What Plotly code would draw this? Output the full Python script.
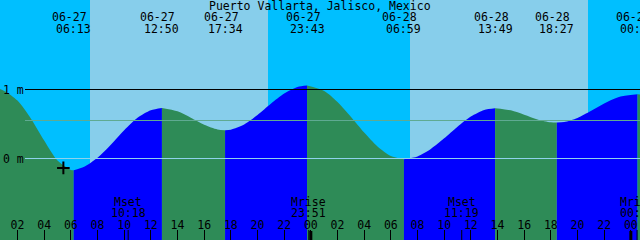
import plotly.graph_objects as go

# ---------------- data (hours since 06-27 00:00, levels in metres) ----------------
title = "Puerto Vallarta, Jalisco, Mexico"

tide_hours = [0, 1, 2, 3, 4, 5, 6, 6.217, 7, 8, 9, 10, 11, 12, 12.833,
              14, 15, 16, 17, 17.567, 18, 19, 20, 21, 22, 23, 23.717,
              25, 26, 27, 28, 29, 30, 30.983, 32, 33, 34, 35, 36, 37, 37.817,
              39, 40, 41, 42, 42.45, 43, 44, 45, 46, 47, 48.5, 49]
tide_levels = [1.06, 0.98, 0.84, 0.58, 0.26, -0.03, -0.165, -0.17, -0.12, 0.01, 0.20, 0.41, 0.59, 0.70, 0.733,
               0.684, 0.591, 0.489, 0.421, 0.41, 0.418, 0.493, 0.630, 0.793, 0.941, 1.036, 1.058,
               0.978, 0.818, 0.605, 0.376, 0.175, 0.037, -0.01, 0.030, 0.138, 0.292, 0.461, 0.608, 0.704, 0.73,
               0.698, 0.634, 0.567, 0.525, 0.52, 0.529, 0.588, 0.687, 0.796, 0.885, 0.93, 0.925]

ext_hours = [6.217, 12.833, 17.567, 23.717, 30.983, 37.817, 42.45, 48.5]
ext_dates = ["06-27", "06-27", "06-27", "06-27", "06-28", "06-28", "06-28", "06-29"]
ext_times = ["06:13", "12:50", "17:34", "23:43", "06:59", "13:49", "18:27", "00:30"]

sunrise_hours = [7.4375, 31.4375]
sunset_hours = [20.7875, 44.7875]

moon_hours = [10.30, 23.85, 35.317, 48.47]
moon_events = ["Mset", "Mrise", "Mset", "Mrise"]
moon_times = ["10:18", "23:51", "11:19", "00:28"]

hour_ticks = list(range(2, 49, 2))
hour_labels = ["02", "04", "06", "08", "10", "12", "14", "16", "18", "20", "22", "00",
               "02", "04", "06", "08", "10", "12", "14", "16", "18", "20", "22", "00"]
midnight_hours = [24, 48]

level_lines = [1.0, 0.5507, 0.0]
level_line_colors = ["#000000", "#5FAA92", "#8FD2EC"]
level_labels = ["1 m", "0 m"]
level_label_values = [1.0, 0.0]

now_hour = [5.44]
now_level = [-0.136]

# ---------------- styling ----------------
NIGHT = "#00BFFF"
DAY = "#87CEEB"
FLOOD = "#0000FF"
EBB = "#2E8B57"
FONT = dict(family="DejaVu Sans Mono", size=11.5, color="black")
X_RANGE = [0.6875, 48.6875]
Y_RANGE = [-1.1812, 2.2971]
BASE = -1.5

fig = go.Figure()

# water fill, coloured by rising / falling between extremes
bounds = [tide_hours[0]] + ext_hours + [tide_hours[-1]]
for a, b in zip(bounds[:-1], bounds[1:]):
    idx = [i for i, h in enumerate(tide_hours) if a - 1e-9 <= h <= b + 1e-9]
    if len(idx) < 2:
        continue
    xs = [tide_hours[i] for i in idx]
    ys = [tide_levels[i] for i in idx]
    color = FLOOD if ys[-1] > ys[0] else EBB
    fig.add_trace(go.Scatter(x=xs, y=[BASE] * len(xs), mode="lines",
                             line=dict(width=0), hoverinfo="skip", showlegend=False))
    fig.add_trace(go.Scatter(x=xs, y=ys, mode="lines",
                             line=dict(width=0, shape="spline", smoothing=0.8, color=color),
                             fill="tonexty", fillcolor=color,
                             hoverinfo="skip", showlegend=False))

# "now" marker
fig.add_trace(go.Scatter(x=now_hour, y=now_level, mode="markers",
                         marker=dict(symbol="cross-thin", size=9,
                                     line=dict(width=2, color="black")),
                         hoverinfo="skip", showlegend=False))

shapes = []
# daylight bands
for sr, ss in zip(sunrise_hours, sunset_hours):
    shapes.append(dict(type="rect", xref="x", yref="paper", x0=sr, x1=ss, y0=0, y1=1,
                       fillcolor=DAY, line=dict(width=0), layer="below"))
# level lines
for lv, col in zip(level_lines, level_line_colors):
    shapes.append(dict(type="line", xref="paper", yref="y", x0=25 / 640, x1=1, y0=lv, y1=lv,
                       line=dict(color=col, width=1), layer="above"))
# midnight (thick) ticks
for mh in midnight_hours:
    shapes.append(dict(type="line", xref="x", yref="paper", x0=mh, x1=mh, y0=0, y1=9 / 240,
                       line=dict(color="black", width=3), layer="above"))
# moon event ticks
for mh in moon_hours:
    shapes.append(dict(type="line", xref="x", yref="paper", x0=mh, x1=mh, y0=0, y1=10 / 240,
                       line=dict(color="black", width=1), layer="above"))

ann = []
ann.append(dict(text=title, xref="paper", yref="paper", x=0.5, y=1 - 6 / 240,
                xanchor="center", yanchor="middle", showarrow=False, font=FONT))
for h, d, t in zip(ext_hours, ext_dates, ext_times):
    ann.append(dict(text=d, xref="x", yref="paper", x=h, xshift=-4, y=1 - 17.5 / 240,
                    xanchor="center", yanchor="middle", showarrow=False, font=FONT))
    ann.append(dict(text=t, xref="x", yref="paper", x=h, y=1 - 29 / 240,
                    xanchor="center", yanchor="middle", showarrow=False, font=FONT))
for h, e, t in zip(moon_hours, moon_events, moon_times):
    ann.append(dict(text=e, xref="x", yref="paper", x=h, y=1 - 201.5 / 240,
                    xanchor="center", yanchor="middle", showarrow=False, font=FONT))
    ann.append(dict(text=t, xref="x", yref="paper", x=h, y=1 - 213 / 240,
                    xanchor="center", yanchor="middle", showarrow=False, font=FONT))
for lab, lv in zip(level_labels, level_label_values):
    ann.append(dict(text=lab, xref="paper", yref="y", x=1 / 640, y=lv,
                    xanchor="left", yanchor="middle", showarrow=False, font=FONT))

fig.update_layout(
    width=640, height=240,
    margin=dict(l=0, r=0, t=0, b=0, pad=0),
    paper_bgcolor=NIGHT, plot_bgcolor=NIGHT,
    shapes=shapes, annotations=ann, showlegend=False,
    xaxis=dict(range=X_RANGE, tickvals=hour_ticks, ticktext=hour_labels,
               ticks="inside", ticklen=10, tickwidth=1, tickcolor="black",
               ticklabelposition="inside", ticklabelstandoff=-2, tickfont=FONT,
               showgrid=False, zeroline=False, showline=False, fixedrange=True),
    yaxis=dict(range=Y_RANGE, visible=False, showgrid=False, zeroline=False, fixedrange=True),
)

fig.write_html("out.html")
